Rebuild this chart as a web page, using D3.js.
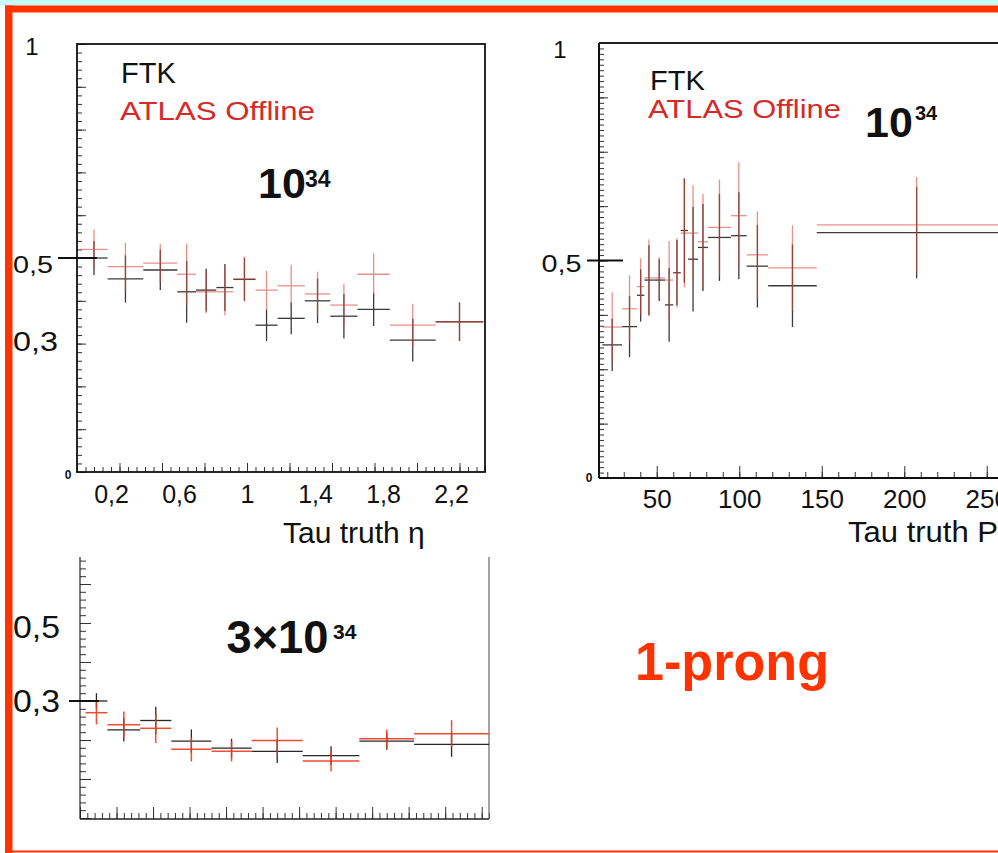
<!DOCTYPE html>
<html><head><meta charset="utf-8">
<script src="https://cdn.jsdelivr.net/npm/d3@7"></script>
<style>
html,body{margin:0;padding:0;background:#fff;}
svg{display:block;}
text{font-family:"Liberation Sans",Arial,Helvetica,sans-serif;}
</style>
</head><body>
<svg id="c" width="998" height="853"></svg>
<script>
// ---------- Panel A: efficiency vs Tau truth eta (10^34) ----------
const etaLo = [0.02,0.18,0.39,0.59,0.70,0.82,0.92,1.05,1.18,1.34,1.49,1.65,1.84,2.11];
const etaHi = [0.18,0.39,0.59,0.70,0.82,0.92,1.05,1.18,1.34,1.49,1.65,1.84,2.11,2.39];
const etaOffline    = [0.520,0.480,0.488,0.462,0.421,0.421,0.451,0.425,0.435,0.416,0.390,0.462,0.343,0.351];
const etaOfflineErr = [0.047,0.055,0.045,0.072,0.050,0.055,0.053,0.045,0.049,0.052,0.050,0.049,0.050,0.045];
const etaFTK        = [0.500,0.451,0.472,0.421,0.425,0.431,0.450,0.343,0.359,0.400,0.364,0.380,0.308,0.351];
const etaFTKErr     = [0.040,0.055,0.047,0.072,0.050,0.055,0.050,0.037,0.037,0.052,0.052,0.039,0.050,0.045];
const etaTickVals   = [0.2,0.6,1,1.4,1.8,2.2];
const etaTickLabels = ["0,2","0,6","1","1,4","1,8","2,2"];

// ---------- Panel B: efficiency vs Tau truth pT (10^34) ----------
const ptLo = [17,29,38,42.5,48,55,60,64.5,69,75,81,95,104.5,117.5,147];
const ptHi = [29,38,42.5,48,55,60,64.5,69,75,81,95,104.5,117.5,147,268];
const ptOffline    = [0.347,0.389,0.440,0.460,0.460,0.455,0.472,0.563,0.563,0.543,0.576,0.603,0.513,0.483,0.582];
const ptOfflineErr = [0.080,0.077,0.065,0.088,0.048,0.090,0.080,0.125,0.110,0.110,0.110,0.123,0.100,0.098,0.110];
const ptFTK        = [0.306,0.348,0.420,0.455,0.455,0.398,0.472,0.569,0.503,0.530,0.553,0.557,0.487,0.442,0.564];
const ptFTKErr     = [0.060,0.070,0.060,0.080,0.048,0.085,0.075,0.120,0.120,0.100,0.100,0.100,0.095,0.095,0.105];
const ptTickVals   = [50,100,150,200,250];
const ptTickLabels = ["50","100","150","200","250"];

// ---------- Panel C: efficiency vs eta (3x10^34) ----------
const eta3Lo = [0.03,0.15,0.33,0.50,0.72,0.94,1.22,1.53,1.83];
const eta3Hi = [0.15,0.33,0.50,0.72,0.94,1.22,1.53,1.83,2.24];
const eta3Offline    = [0.270,0.239,0.230,0.176,0.171,0.199,0.146,0.203,0.216];
const eta3OfflineErr = [0.030,0.034,0.038,0.031,0.026,0.033,0.026,0.024,0.035];
const eta3FTK        = [0.300,0.226,0.250,0.197,0.179,0.171,0.160,0.197,0.189];
const eta3FTKErr     = [0.020,0.030,0.035,0.030,0.024,0.030,0.024,0.022,0.032];

const svg = d3.select("#c");
const RED = "#ff3300";

// slide background pieces
svg.append("rect").attr("x",0).attr("y",0).attr("width",998).attr("height",5.5).attr("fill","#c6ffff");
svg.append("rect").attr("x",5).attr("y",5.5).attr("width",993).attr("height",7).attr("fill",RED);
svg.append("rect").attr("x",5).attr("y",5.5).attr("width",7.5).attr("height",848).attr("fill",RED);
svg.append("rect").attr("x",5).attr("y",850.5).attr("width",993).attr("height",2).attr("fill",RED);

// helpers
function yTicks(g, y, x0, step, max, len){
  g.append("g").attr("transform",`translate(${x0},0)`)
   .call(d3.axisRight(y).tickValues(d3.range(0, max+1e-9, step)).tickSize(len).tickFormat(""))
   .call(a=>{a.select(".domain").remove(); a.selectAll("line").attr("stroke","#333").attr("stroke-width",1);});
}
function xTicks(g, x, y0, vals, len){
  g.append("g").attr("transform",`translate(0,${y0})`)
   .call(d3.axisTop(x).tickValues(vals).tickSize(len).tickFormat(""))
   .call(a=>{a.select(".domain").remove(); a.selectAll("line").attr("stroke","#333").attr("stroke-width",1);});
}
function xLabels(g, x, y0, vals, labels, size){
  g.append("g").attr("transform",`translate(0,${y0})`)
   .call(d3.axisBottom(x).tickValues(vals).tickSize(0).tickPadding(0).tickFormat((d,i)=>labels[i]))
   .call(a=>{a.select(".domain").remove();
     a.selectAll("text").attr("font-size",size).attr("fill","#111").attr("dy",0).attr("y",0)
      .style("font-family",'"Liberation Sans",Arial,sans-serif');});
}
function series(g, x, y, lo, hi, vals, errs, color, w, op){
  const idx = d3.range(vals.length);
  const s = g.append("g").attr("stroke",color).attr("stroke-width",w).attr("opacity",op);
  s.selectAll(".h").data(idx).join("line").attr("class","h")
    .attr("x1",i=>x(lo[i])).attr("x2",i=>x(hi[i]))
    .attr("y1",i=>y(vals[i])).attr("y2",i=>y(vals[i]));
  s.selectAll(".v").data(idx).join("line").attr("class","v")
    .attr("x1",i=>x((lo[i]+hi[i])/2)).attr("x2",i=>x((lo[i]+hi[i])/2))
    .attr("y1",i=>y(vals[i]-errs[i])).attr("y2",i=>y(vals[i]+errs[i]));
}
function txt(x,y,s,size,opts={}){
  const t = svg.append("text").attr("x",x).attr("y",y).attr("font-size",size)
    .attr("fill",opts.fill||"#111").text(s);
  if(opts.bold) t.attr("font-weight","bold");
  if(opts.anchor) t.attr("text-anchor",opts.anchor);
  if(opts.len) t.attr("textLength",opts.len).attr("lengthAdjust","spacingAndGlyphs");
  return t;
}

// ---------- Panel A ----------
{
  const x = d3.scaleLinear([0,2.4],[77,485]);
  const y = d3.scaleLinear([0,1],[472,44]);
  const g = svg.append("g");
  yTicks(g,y,77,0.02,1,5);
  yTicks(g,y,77,0.1,1,9);
  xTicks(g,x,472,d3.range(0,2.4001,0.05),5);
  xTicks(g,x,472,d3.range(0,2.4001,0.25),9);
  g.append("rect").attr("x",77).attr("y",44).attr("width",408).attr("height",428)
    .attr("fill","none").attr("stroke","#111").attr("stroke-width",1.8);
  series(g,x,y,etaLo,etaHi,etaFTK,etaFTKErr,"#1a1a1a",1.3,0.85);
  series(g,x,y,etaLo,etaHi,etaOffline,etaOfflineErr,"#d8483c",1.3,0.6);
  xLabels(g,x,503,etaTickVals,etaTickLabels,25);
  g.append("line").attr("x1",58).attr("x2",97).attr("y1",y(0.5)).attr("y2",y(0.5)).attr("stroke","#111").attr("stroke-width",2);
  txt(32,55,"1",24,{anchor:"middle"});
  txt(13,272.5,"0,5",23,{len:40});
  txt(13,351,"0,3",28,{len:45});
  txt(68,479,"0",12,{anchor:"middle",bold:true});
  txt(283,543,"Tau truth η",30);
  txt(121,83,"FTK",29);
  txt(120,120,"ATLAS Offline",26,{fill:"#d42a2a",len:195});
  txt(258,198,"10",43,{bold:true});
  txt(305,187,"34",23,{bold:true});
}

// ---------- Panel B ----------
{
  const x = d3.scaleLinear([15,300],[599,1069.25]);
  const y = d3.scaleLinear([0,1],[478,43]);
  const g = svg.append("g");
  yTicks(g,y,599,0.0125,1,5);
  yTicks(g,y,599,0.125,1,9);
  xTicks(g,x,478,d3.range(20,300.1,10),6);
  xTicks(g,x,478,d3.range(50,300.1,50),12);
  g.append("line").attr("x1",599).attr("x2",599).attr("y1",43).attr("y2",478).attr("stroke","#111").attr("stroke-width",2);
  g.append("line").attr("x1",599).attr("x2",998).attr("y1",43).attr("y2",43).attr("stroke","#222").attr("stroke-width",1.8);
  g.append("line").attr("x1",599).attr("x2",998).attr("y1",478).attr("y2",478).attr("stroke","#111").attr("stroke-width",2);
  series(g,x,y,ptLo,ptHi,ptFTK,ptFTKErr,"#1a1a1a",1.3,0.85);
  series(g,x,y,ptLo,ptHi,ptOffline,ptOfflineErr,"#d8483c",1.3,0.6);
  xLabels(g,x,508,ptTickVals,ptTickLabels,26);
  g.append("line").attr("x1",587).attr("x2",623).attr("y1",y(0.5)).attr("y2",y(0.5)).attr("stroke","#111").attr("stroke-width",2);
  txt(560,58,"1",24,{anchor:"middle"});
  txt(541.5,272,"0,5",23,{len:40});
  txt(589,482,"0",12,{anchor:"middle",bold:true});
  txt(848,542,"Tau truth P",30,{len:150});
  txt(650,90,"FTK",27,{len:55});
  txt(648,118,"ATLAS Offline",26,{fill:"#d42a2a",len:193});
  txt(865,137,"10",43,{bold:true});
  txt(915,120,"34",20,{bold:true});
}

// ---------- Panel C ----------
{
  const x = d3.scaleLinear([0,2.24],[80,489]);
  const y = d3.scaleLinear([0,0.67],[818,556.7]);
  const g = svg.append("g");
  yTicks(g,y,80,0.02,0.66,6);
  yTicks(g,y,80,0.1,0.66,11);
  xTicks(g,x,819,d3.range(0,2.2401,0.04),6);
  xTicks(g,x,819,d3.range(0,2.2401,0.2),12);
  g.append("line").attr("x1",80).attr("x2",80).attr("y1",557).attr("y2",819).attr("stroke","#222").attr("stroke-width",1.2);
  g.append("line").attr("x1",80).attr("x2",489).attr("y1",819).attr("y2",819).attr("stroke","#222").attr("stroke-width",1.6);
  g.append("line").attr("x1",489).attr("x2",489).attr("y1",557).attr("y2",819).attr("stroke","#666").attr("stroke-width",1.2);
  series(g,x,y,eta3Lo,eta3Hi,eta3FTK,eta3FTKErr,"#111",1.3,0.9);
  series(g,x,y,eta3Lo,eta3Hi,eta3Offline,eta3OfflineErr,"#f03a1e",1.5,0.9);
  g.append("line").attr("x1",69).attr("x2",99).attr("y1",y(0.3)).attr("y2",y(0.3)).attr("stroke","#111").attr("stroke-width",2);
  txt(13,638,"0,5",31,{len:47});
  txt(13,711.5,"0,3",31,{len:47});
  txt(226.5,653,"3×10",46,{bold:true,len:102});
  txt(333,638.5,"34",21,{bold:true});
}

txt(635,680,"1-prong",53,{bold:true,fill:RED,len:194});
</script>
</body></html>
